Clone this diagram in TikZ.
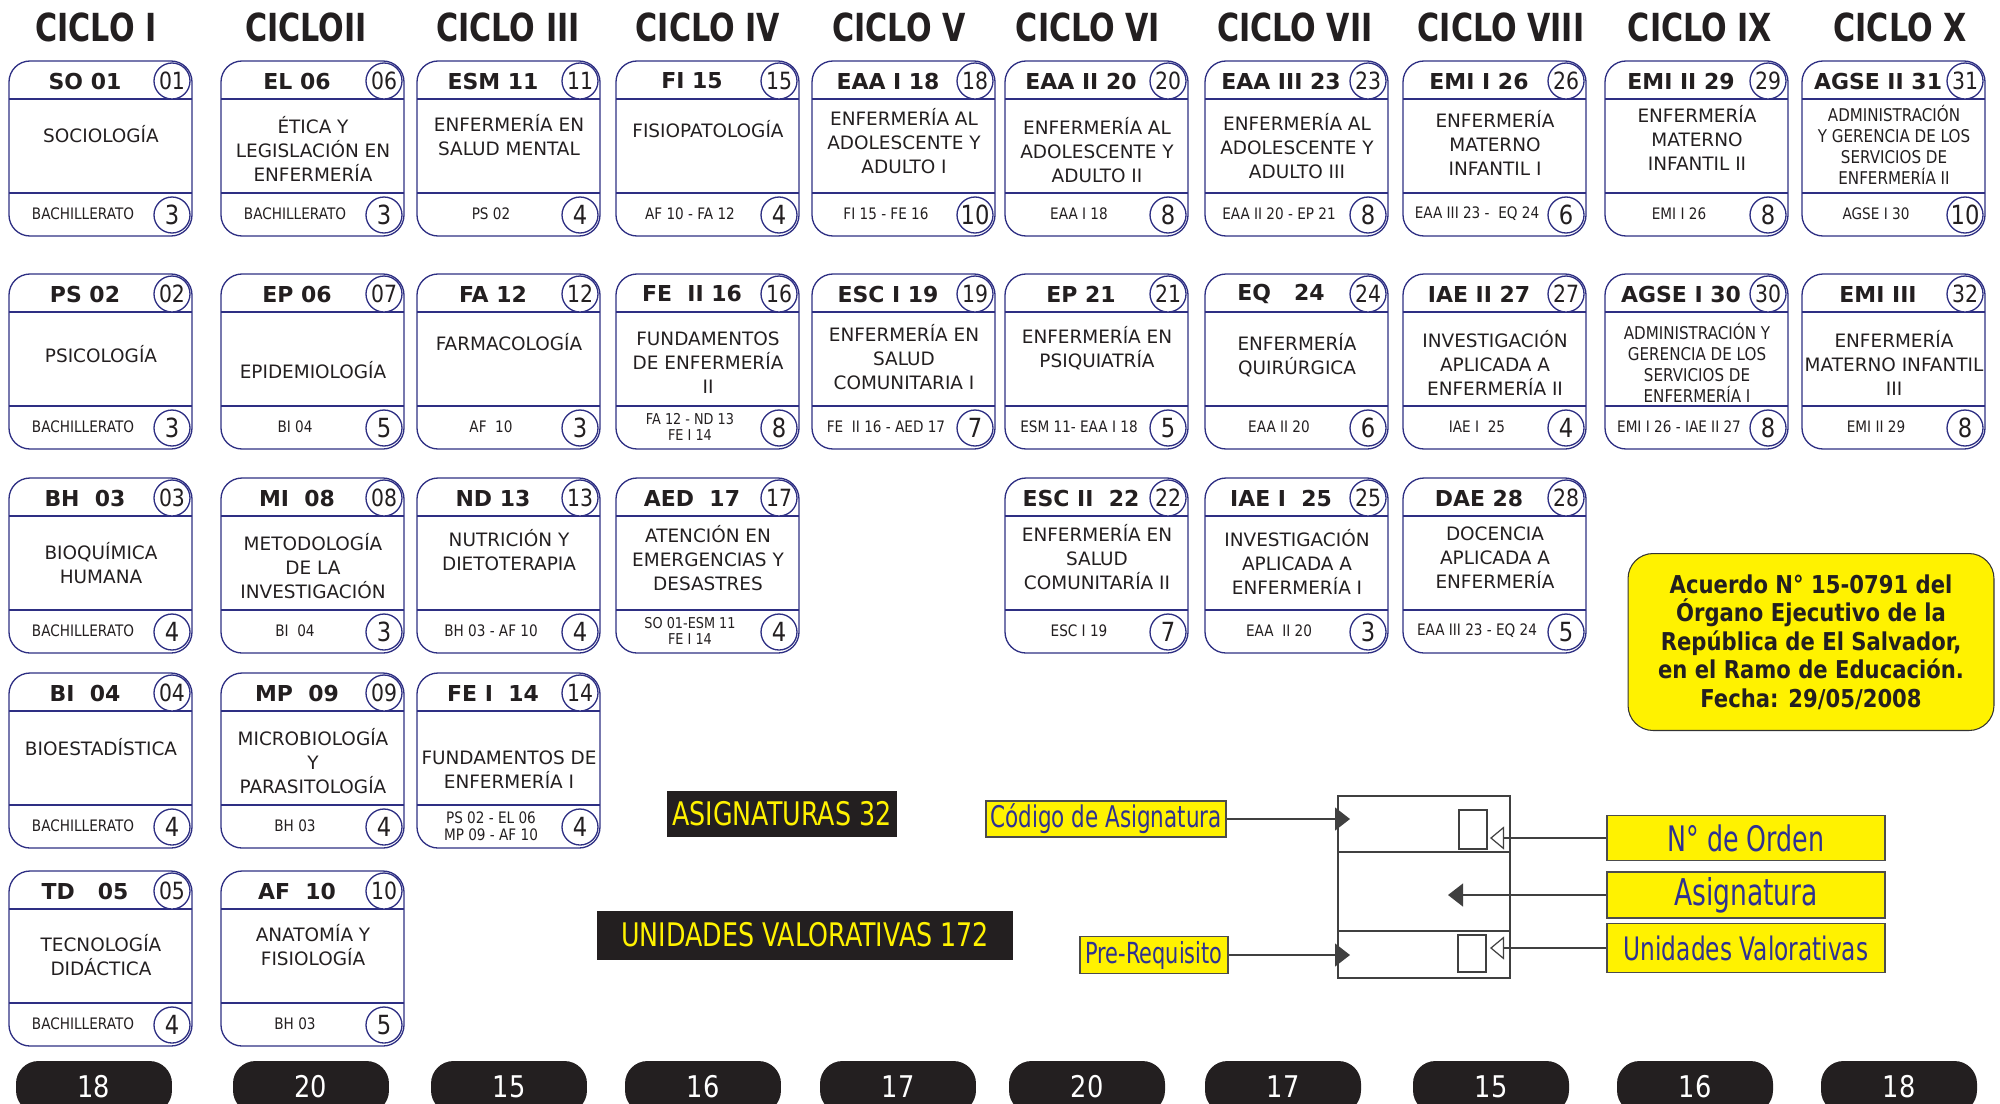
\documentclass[tikz,border=0pt]{standalone}
\usepackage{fontspec}
\usepackage{tikz}
\usetikzlibrary{arrows.meta}
\setmainfont{DejaVu Sans}
\newfontfamily\narrowfont[FakeStretch=0.86]{DejaVu Sans}
\newfontfamily\tallfont[FakeStretch=0.78]{DejaVu Sans}
\newfontfamily\keyfont[FakeStretch=0.72]{DejaVu Sans}
\definecolor{navy}{HTML}{2E2F83}
\definecolor{ink}{HTML}{231F20}
\definecolor{signal}{HTML}{FFF200}
\definecolor{keyblue}{HTML}{2E3192}

% smaller text for crowded prerequisite lines
\newcommand{\tw}{\fontsize{8.5}{9.5}\selectfont}

% course card: left, top, code, order, name, prerequisite, UV, name offset, name style
\newcommand{\card}[9]{%
  \draw[cardline, rounded corners=0.42cm] (#1,#2) rectangle ++(183,175);
  \draw[cardline] (#1,{#2+38}) -- ++(183,0);
  \draw[cardline] (#1,{#2+132}) -- ++(183,0);
  \node[codetext] (code#4) at ({#1+76},{#2+20}) {#3};
  \node[ordnum] (ord#4) at ({#1+163},{#2+20}) {#4};
  \node[subject, #9] (subj#4) at ({#1+92},{#2+#8}) {#5};
  \node[prereq] (pre#4) at ({#1+74},{#2+153}) {#6};
  \node[uvnum] (uv#4) at ({#1+163},{#2+154}) {#7};
}

\begin{document}
\begin{tikzpicture}[
  x=0.02cm, y=-0.02cm,
  cardline/.style={draw=navy, line width=0.75pt},
  codetext/.style={inner sep=0pt, text=ink, font=\bfseries\fontsize{12.5}{13}\selectfont},
  ordnum/.style={circle, draw=navy, line width=0.75pt, fill=white, minimum size=0.72cm, inner sep=0pt, text=ink, font=\narrowfont\fontsize{13.5}{13.5}\selectfont},
  uvnum/.style={ordnum, font=\narrowfont\fontsize{15}{15}\selectfont},
  subject/.style={align=center, inner sep=0pt, text=ink, font=\fontsize{10.5}{13.7}\selectfont},
  dense/.style={font=\narrowfont\fontsize{10}{12}\selectfont},
  prereq/.style={align=center, inner sep=0pt, text=ink, font=\narrowfont\fontsize{9}{9.5}\selectfont},
  cycle/.style={text=ink, font=\tallfont\bfseries\fontsize{22}{22}\selectfont},
  total/.style={fill=ink, rounded corners=0.45cm, minimum width=3.12cm, minimum height=1.04cm, text=white, font=\narrowfont\fontsize{17}{17}\selectfont},
  banner/.style={fill=ink, inner sep=0pt, text=signal, font=\tallfont\fontsize{18.5}{18.5}\selectfont},
  keylabel/.style={fill=signal, draw=black!70, line width=0.8pt, inner sep=0pt, text=keyblue},
  keyline/.style={draw=black!75, line width=0.7pt},
  fillarrow/.style={keyline, -{Triangle[length=0.3cm, width=0.46cm]}},
  openarrow/.style={keyline, -{Triangle[open, fill=white, length=0.28cm, width=0.46cm]}},
  decree/.style={fill=signal, draw=black!80, line width=0.6pt, rounded corners=0.5cm, minimum width=7.32cm, minimum height=3.54cm, align=center, text=ink, font=\narrowfont\bfseries\fontsize{14}{16.2}\selectfont}
]
  \useasboundingbox (0,0) rectangle (2000,1103);
  \clip (0,0) rectangle (2000,1103);

  % Cycle titles
  \foreach \cx/\lab [count=\i] in {96/CICLO I, 306/CICLOII, 508/CICLO III, 708/CICLO IV, 899/CICLO V, 1088/CICLO VI, 1295/CICLO VII, 1501/CICLO VIII, 1700/CICLO IX, 1900/CICLO X}
    \node[cycle] (cyc\i) at (\cx,27) {\lab};

  % Cycle I
  \card{9}{61}{SO 01}{01}{SOCIOLOGÍA}{BACHILLERATO}{3}{73}{}
  \card{9}{274}{PS 02}{02}{PSICOLOGÍA}{BACHILLERATO}{3}{80}{}
  \card{9}{478}{BH\ \ 03}{03}{BIOQUÍMICA\\HUMANA}{BACHILLERATO}{4}{85}{}
  \card{9}{673}{BI\ \ 04}{04}{BIOESTADÍSTICA}{BACHILLERATO}{4}{74}{}
  \card{9}{871}{TD\ \ \ 05}{05}{TECNOLOGÍA\\DIDÁCTICA}{BACHILLERATO}{4}{84}{}

  % Cycle II
  \card{221}{61}{EL 06}{06}{ÉTICA Y\\LEGISLACIÓN EN\\ENFERMERÍA}{BACHILLERATO}{3}{88}{}
  \card{221}{274}{EP 06}{07}{EPIDEMIOLOGÍA}{BI 04}{5}{96}{}
  \card{221}{478}{MI\ \ 08}{08}{METODOLOGÍA\\DE LA\\INVESTIGACIÓN}{BI\ \ 04}{3}{88}{}
  \card{221}{673}{MP\ \ 09}{09}{MICROBIOLOGÍA\\Y\\PARASITOLOGÍA}{BH 03}{4}{88}{}
  \card{221}{871}{AF\ \ 10}{10}{ANATOMÍA Y\\FISIOLOGÍA}{BH 03}{5}{74}{}

  % Cycle III
  \card{417}{61}{ESM 11}{11}{ENFERMERÍA EN\\SALUD MENTAL}{PS 02}{4}{74}{}
  \card{417}{274}{FA 12}{12}{FARMACOLOGÍA}{AF\ \ 10}{3}{68}{}
  \card{417}{478}{ND 13}{13}{NUTRICIÓN Y\\DIETOTERAPIA}{BH 03 - AF 10}{4}{72}{}
  \card{417}{673}{FE I\ \ 14}{14}{FUNDAMENTOS DE\\ENFERMERÍA I}{PS 02 - EL 06\\MP 09 - AF 10}{4}{97}{}

  % Cycle IV
  \card{616}{61}{FI 15}{15}{FISIOPATOLOGÍA}{AF 10 - FA 12}{4}{68}{}
  \card{616}{274}{FE\ \ II 16}{16}{FUNDAMENTOS\\DE ENFERMERÍA\\II}{\tw FA 12 - ND 13\\\tw FE I 14}{8}{89}{}
  \card{616}{478}{AED\ \ 17}{17}{ATENCIÓN EN\\EMERGENCIAS Y\\DESASTRES}{\tw SO 01-ESM 11\\\tw FE I 14}{4}{80}{}

  % Cycle V
  \card{812}{61}{EAA I 18}{18}{ENFERMERÍA AL\\ADOLESCENTE Y\\ADULTO I}{FI 15 - FE 16}{10}{80}{}
  \card{812}{274}{ESC I 19}{19}{ENFERMERÍA EN\\SALUD\\COMUNITARIA I}{FE\ \ II 16 - AED 17}{7}{83}{}

  % Cycle VI
  \card{1005}{61}{EAA II 20}{20}{ENFERMERÍA AL\\ADOLESCENTE Y\\ADULTO II}{EAA I 18}{8}{89}{}
  \card{1005}{274}{EP 21}{21}{ENFERMERÍA EN\\PSIQUIATRÍA}{ESM 11- EAA I 18}{5}{74}{}
  \card{1005}{478}{ESC II\ \ 22}{22}{ENFERMERÍA EN\\SALUD\\COMUNITARÍA II}{ESC I 19}{7}{79}{}

  % Cycle VII
  \card{1205}{61}{EAA III 23}{23}{ENFERMERÍA AL\\ADOLESCENTE Y\\ADULTO III}{EAA II 20 - EP 21}{8}{85}{}
  \card{1205}{274}{EQ\ \ \ 24}{24}{ENFERMERÍA\\QUIRÚRGICA}{EAA II 20}{6}{81}{}
  \card{1205}{478}{IAE I\ \ 25}{25}{INVESTIGACIÓN\\APLICADA A\\ENFERMERÍA I}{EAA\ \ II 20}{3}{84}{}

  % Cycle VIII
  \card{1403}{61}{EMI I 26}{26}{ENFERMERÍA\\MATERNO\\INFANTIL I}{EAA III 23 -\ \ EQ 24}{6}{82}{}
  \card{1403}{274}{IAE II 27}{27}{INVESTIGACIÓN\\APLICADA A\\ENFERMERÍA II}{IAE I\ \ 25}{4}{89}{}
  \card{1403}{478}{DAE 28}{28}{DOCENCIA\\APLICADA A\\ENFERMERÍA}{EAA III 23 - EQ 24}{5}{80}{}

  % Cycle IX
  \card{1605}{61}{EMI II 29}{29}{ENFERMERÍA\\MATERNO\\INFANTIL II}{EMI I 26}{8}{77}{}
  \card{1605}{274}{AGSE I 30}{30}{ADMINISTRACIÓN Y\\GERENCIA DE LOS\\SERVICIOS DE\\ENFERMERÍA I}{EMI I 26 - IAE II 27}{8}{89}{dense}

  % Cycle X
  \card{1802}{61}{AGSE II 31}{31}{ADMINISTRACIÓN\\Y GERENCIA DE LOS\\SERVICIOS DE\\ENFERMERÍA II}{AGSE I 30}{10}{84}{dense}
  \card{1802}{274}{EMI III}{32}{ENFERMERÍA\\MATERNO INFANTIL\\III}{EMI II 29}{8}{89}{}

  % Decree
  \node[decree] (acuerdo) at (1811,642) {Acuerdo N° 15-0791 del\\Órgano Ejecutivo de la\\República de El Salvador,\\en el Ramo de Educación.\\Fecha: 29/05/2008};

  % Totals
  \node[banner, minimum width=4.62cm, minimum height=0.92cm] (nasig) at (782,814) {ASIGNATURAS 32};
  \node[banner, minimum width=8.34cm, minimum height=0.98cm] (nuv) at (805,935) {UNIDADES VALORATIVAS 172};

  % Legend
  \node[keyline, minimum width=3.44cm, minimum height=3.64cm, inner sep=0pt] (kbox) at (1424,887) {};
  \draw[keyline] (kbox.west |- 0,852) -- (kbox.east |- 0,852);
  \draw[keyline] (kbox.west |- 0,931) -- (kbox.east |- 0,931);
  \node[keyline, minimum width=0.56cm, minimum height=0.78cm, inner sep=0pt] (sord) at (1473,829.5) {};
  \node[keyline, minimum width=0.56cm, minimum height=0.74cm, inner sep=0pt] (suv) at (1472,953.5) {};

  \node[keylabel, minimum width=4.8cm, minimum height=0.72cm, font=\keyfont\fontsize{17}{17}\selectfont] (kcod) at (1106,819) {Código de Asignatura};
  \node[keylabel, minimum width=2.96cm, minimum height=0.74cm, font=\keyfont\fontsize{16.5}{16.5}\selectfont] (kpre) at (1154,955) {Pre-Requisito};
  \node[keylabel, minimum width=5.56cm, minimum height=0.9cm, font=\keyfont\fontsize{20}{20}\selectfont] (kord) at (1746,838) {N° de Orden};
  \node[keylabel, minimum width=5.56cm, minimum height=0.92cm, font=\keyfont\fontsize{21}{21}\selectfont] (kasig) at (1746,895) {Asignatura};
  \node[keylabel, minimum width=5.56cm, minimum height=0.98cm, font=\keyfont\fontsize{18.4}{18.4}\selectfont] (kuv) at (1746,948) {Unidades Valorativas};

  \coordinate (tcod) at (1350,819);
  \coordinate (tpre) at (1350,955);
  \coordinate (tord) at (1490,838);
  \coordinate (tasig) at (1448,895);
  \coordinate (tuv) at (1490,948);
  \draw[fillarrow] (kcod) -- (tcod);
  \draw[fillarrow] (kpre) -- (tpre);
  \draw[openarrow] (kord) -- (tord);
  \draw[fillarrow] (kasig) -- (tasig);
  \draw[openarrow] (kuv) -- (tuv);

  % UV per cycle
  \foreach \px/\tot [count=\i] in {94/18, 311/20, 509/15, 703/16, 898/17, 1087/20, 1283/17, 1491/15, 1695/16, 1899/18}
    \node[total] (tot\i) at (\px,1087) {\tot};
\end{tikzpicture}
\end{document}
